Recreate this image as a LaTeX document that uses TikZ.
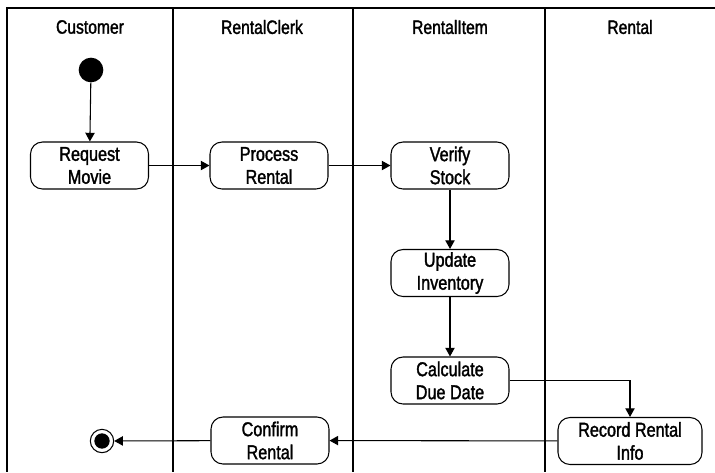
\documentclass[tikz,border=0pt]{standalone}
\usepackage{fontspec}
\setmainfont[FakeStretch=0.81,FakeBold=1.6]{Liberation Sans}
\usetikzlibrary{arrows.meta}
\begin{document}
\begin{tikzpicture}[x=0.75pt,y=-0.75pt,
  lane/.style={line width=0.8pt},
  act/.style={draw,line width=0.8pt,rounded corners=9pt,minimum width=88.5pt,minimum height=35.25pt,align=center,inner sep=0pt,font=\fontsize{15}{17.25}\selectfont},
  hdr/.style={font=\fontsize{14.5}{17.25}\selectfont,inner sep=0pt},
  flow/.style={line width=0.8pt,-{Triangle[width=7pt,length=6.5pt]}}]
\useasboundingbox (0,0) rectangle (715,472);
\draw[lane] (715,8) -- (7,8) -- (7,472);
\draw[lane] (173,8) -- (173,472);
\draw[lane] (353,8) -- (353,472);
\draw[lane] (545,8) -- (545,472);
\node[hdr] (h1) at (90,27) {Customer};
\node[hdr] (h2) at (262,27) {RentalClerk};
\node[hdr] (h3) at (450,27) {RentalItem};
\node[hdr] (h4) at (630,27) {Rental};
\node[circle,fill=black,minimum size=18.5pt,inner sep=0pt] (start) at (91,70) {};
\node[act] (req) at (89.5,165.5) {Request\\Movie};
\node[act] (proc) at (269,165.5) {Process\\Rental};
\node[act] (ver) at (450,165.5) {Verify\\Stock};
\node[act] (upd) at (450,273) {Update\\Inventory};
\node[act] (calc) at (450,380.5) {Calculate\\Due Date};
\node[act,minimum width=108pt] (rec) at (630,441) {Record Rental\\Info};
\node[act] (conf) at (270,440.5) {Confirm\\Rental};
\node[circle,draw,line width=0.8pt,minimum size=17.5pt,inner sep=0pt] (end) at (102,441) {};
\node[circle,fill=black,minimum size=11.5pt,inner sep=0pt] (endin) at (end) {};
\draw[flow] (start) -- (req);
\draw[flow] (req) -- (proc);
\draw[flow] (proc) -- (ver);
\draw[flow] (ver) -- (upd);
\draw[flow] (upd) -- (calc);
\draw[flow] (calc.east) -| (rec.north);
\draw[flow] (rec) -- (conf);
\draw[flow] (conf) -- (end);
\end{tikzpicture}
\end{document}
